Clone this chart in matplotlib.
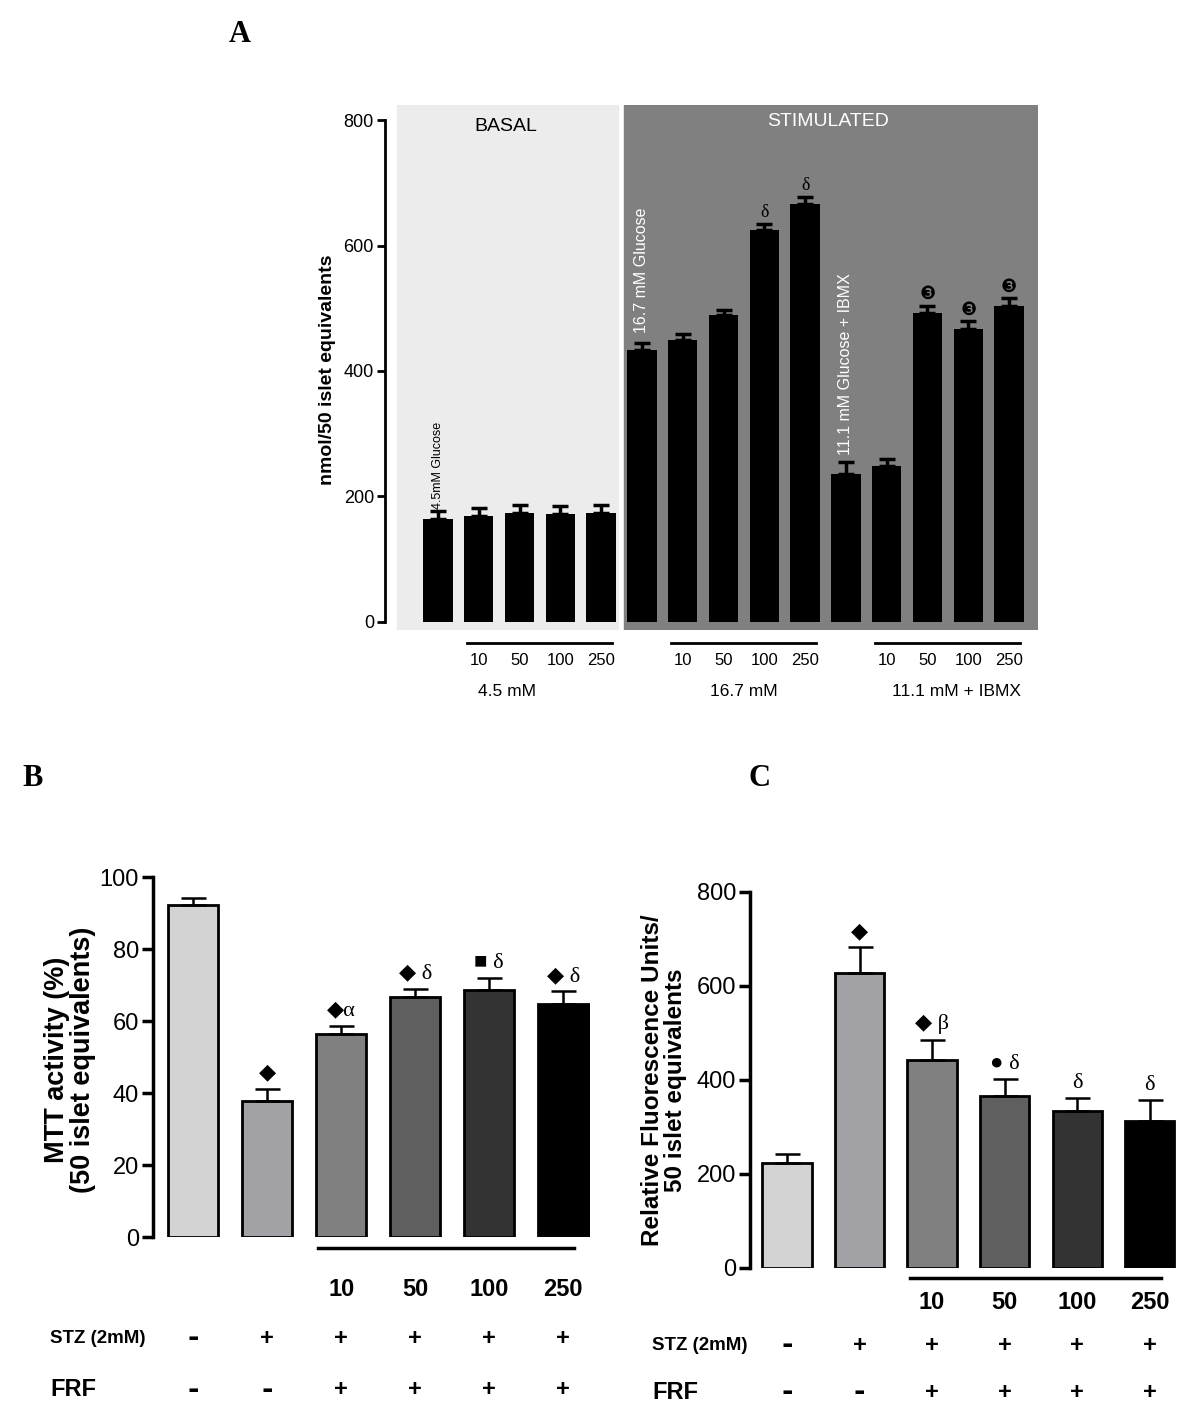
import numpy as np
import matplotlib
matplotlib.use("Agg")
import matplotlib.pyplot as plt
from matplotlib import font_manager

# ---- panel A : insulin secretion (nmol/50 islet equivalents)
a_basal = [164, 168, 174, 172, 174]
a_basal_sem = [12, 13, 13, 13, 13]
a_glu = [434, 449, 489, 624, 666]
a_glu_sem = [11, 10, 8, 11, 11]
a_ibmx = [235, 248, 492, 467, 504]
a_ibmx_sem = [20, 12, 12, 12, 12]
a_marks = ["", "", "", "", "", "", "", "", "δ", "δ", "", "", "❸", "❸", "❸"]
a_groups = ["4.5 mM", "16.7 mM", "11.1 mM + IBMX"]
a_group_x = [1.7, 7.5, 12.7]
doses = ["10", "50", "100", "250"]

# ---- panel B : MTT activity (%)
b_mtt = [92.3, 37.7, 56.4, 66.6, 68.6, 64.8]
b_mtt_sem = [1.9, 3.4, 2.3, 2.4, 3.3, 3.4]
b_marks = ["", "◆", "◆α", "◆ δ", "■ δ", "◆ δ"]

# ---- panel C : relative fluorescence units
c_ros = [224, 627, 443, 366, 334, 312]
c_ros_sem = [18, 55, 43, 36, 27, 45]
c_marks = ["", "◆", "◆ β", "● δ", "δ", "δ"]

stz = ["-", "+", "+", "+", "+", "+"]
frf = ["-", "-", "+", "+", "+", "+"]
bar_colors = ["#d3d3d3", "#a1a1a6", "#808080", "#5f5f5f", "#333333", "#000000"]


def has_font(name):
    try:
        font_manager.findfont(name, fallback_to_default=False)
        return True
    except ValueError:
        return False


narrow = "Liberation Sans Narrow" if has_font("Liberation Sans Narrow") else "Liberation Sans"
plt.rcParams["font.family"] = ["Liberation Sans", "DejaVu Sans"]
greek = ["Liberation Serif", "DejaVu Sans"]

W, H = 1200, 1427
fig = plt.figure(figsize=(W / 100, H / 100), dpi=100)


def px_axes(left, top, right, bottom):
    return fig.add_axes([left / W, 1 - bottom / H, (right - left) / W, (bottom - top) / H])


# ================= panel A =================
axA = px_axes(385, 105, 1038, 630)
a_vals = a_basal + a_glu + a_ibmx
a_sems = a_basal_sem + a_glu_sem + a_ibmx_sem
xa = np.arange(len(a_vals))
axA.set_xlim(-1.30, 14.71)
axA.set_ylim(-13, 824)
axA.axvspan(-1.0, 4.41, color="#ececec", zorder=0)
axA.axvspan(4.56, 14.71, color="#808080", zorder=0)
axA.bar(xa, a_vals, width=0.72, color="black", zorder=2)
axA.errorbar(xa, a_vals, yerr=[np.zeros(len(xa)), a_sems], fmt="none", ecolor="black",
             elinewidth=2.5, capsize=5.5, capthick=2.5, zorder=3)
for i, m in enumerate(a_marks):
    if m:
        axA.annotate(m, (xa[i], a_vals[i] + a_sems[i]), xytext=(0, 2), textcoords="offset points",
                     ha="center", va="bottom", fontsize=13, family=greek if m == "δ" else "DejaVu Sans")

axA.annotate("4.5mM Glucose", (xa[0], a_vals[0] + a_sems[0]), xytext=(0, 2), textcoords="offset points",
             rotation=90, ha="center", va="bottom", fontsize=9)
axA.annotate("16.7 mM Glucose", (xa[5], a_vals[5] + a_sems[5]), xytext=(0, 7), textcoords="offset points",
             rotation=90, ha="center", va="bottom", fontsize=11.5, color="white")
axA.annotate("11.1 mM Glucose + IBMX", (xa[10], a_vals[10] + a_sems[10]), xytext=(0, 5),
             textcoords="offset points", rotation=90, ha="center", va="bottom", fontsize=11.5, color="white")
axA.text(1.65, 790, "BASAL", ha="center", va="center", fontsize=14)
axA.text(9.56, 797, "STIMULATED", ha="center", va="center", fontsize=14, color="white")

for s in ["top", "right", "bottom"]:
    axA.spines[s].set_visible(False)
axA.spines["left"].set_bounds(0, 800)
axA.spines["left"].set_linewidth(2)
axA.set_yticks(range(0, 801, 200))
axA.set_xticks([])
axA.tick_params(axis="y", length=6, width=2, labelsize=13, pad=2)
fig.text(327 / W, 1 - 370 / H, "nmol/50 islet equivalents", rotation=90, ha="center", va="center",
         fontsize=14, fontweight="bold")

trA = axA.get_xaxis_transform()
for g, start in enumerate([1, 6, 11]):
    axA.plot([start - 0.29, start + 3.27], [-0.025, -0.025], color="black", lw=2,
             transform=trA, clip_on=False)
    for k, d in enumerate(doses):
        axA.text(start + k, -0.059, d, transform=trA, ha="center", va="center", fontsize=12)
    axA.text(a_group_x[g], -0.118, a_groups[g], transform=trA, ha="center", va="center", fontsize=12.5)


# ================= panels B and C =================
def treatment_panel(ax, vals, sems, marks, ylim, yticks, ylabel, label_xy, row_y, row_left, ysz):
    x = np.arange(len(vals))
    ax.bar(x, vals, width=0.68, color=bar_colors, edgecolor="black", linewidth=2, zorder=2)
    ax.errorbar(x, vals, yerr=[np.zeros(len(x)), sems], fmt="none", ecolor="black",
                elinewidth=1.8, capsize=9, capthick=1.8, zorder=3)
    for i, m in enumerate(marks):
        if m:
            ax.annotate(m, (x[i], vals[i] + sems[i]), xytext=(0, 4), textcoords="offset points",
                        ha="center", va="bottom", fontsize=16, family=greek)
    ax.set_ylim(*ylim)
    ax.set_yticks(yticks)
    ax.set_xticks([])
    for s in ["top", "right", "bottom"]:
        ax.spines[s].set_visible(False)
    ax.spines["left"].set_linewidth(2.5)
    ax.tick_params(axis="y", length=8, width=2.5, labelsize=17, pad=2)
    for t in ax.get_yticklabels():
        t.set_family(narrow)
    fig.text(label_xy[0] / W, 1 - label_xy[1] / H, ylabel, rotation=90, ha="center", va="center",
             fontsize=ysz, fontweight="bold", linespacing=1.05)

    tr = ax.get_xaxis_transform()
    line_y, num_y, stz_y, frf_y = row_y
    ax.plot([1.69, 5.15], [line_y, line_y], color="black", lw=2.5, transform=tr, clip_on=False)
    for k, d in enumerate(doses):
        ax.text(x[k + 2], num_y, d, transform=tr, ha="center", va="center", fontsize=17,
                fontweight="bold", family=narrow)
    for i in range(len(vals)):
        for row, signs in ((stz_y, stz), (frf_y, frf)):
            s = signs[i]
            ax.text(x[i], row, s, transform=tr, ha="center", va="center",
                    fontsize=20 if s == "-" else 17, fontweight="bold",
                    family="DejaVu Sans" if s == "-" else "Liberation Sans")
    ax.text(row_left, stz_y, "STZ (2mM)", transform=ax.transAxes, ha="left", va="center",
            fontsize=13.5, fontweight="bold", family=narrow)
    ax.text(row_left, frf_y, "FRF", transform=ax.transAxes, ha="left", va="center",
            fontsize=17, fontweight="bold", family=narrow)


axB = px_axes(153, 877, 590, 1237)
axB.set_xlim(-0.54, 5.36)
treatment_panel(axB, b_mtt, b_mtt_sem, b_marks, (0, 100), range(0, 101, 20),
                "MTT activity (%)\n(50 islet equivalents)", (70, 1060),
                (-0.031, -0.147, -0.281, -0.425), (50 - 153) / 437, 19.5)

axC = px_axes(750, 892, 1178, 1268)
axC.set_xlim(-0.51, 5.39)
treatment_panel(axC, c_ros, c_ros_sem, c_marks, (0, 800), range(0, 801, 200),
                "Relative Fluorescence Units/\n50 islet equivalents", (664, 1080),
                (-0.027, -0.093, -0.205, -0.33), (652 - 750) / 428, 17.5)

# panel letters
fig.text(240 / W, 1 - 35 / H, "A", fontsize=22, fontweight="bold", family="Liberation Serif",
         ha="center", va="center")
fig.text(33 / W, 1 - 778 / H, "B", fontsize=22, fontweight="bold", family="Liberation Serif",
         ha="center", va="center")
fig.text(760 / W, 1 - 778 / H, "C", fontsize=22, fontweight="bold", family="Liberation Serif",
         ha="center", va="center")

fig.savefig("out.png", dpi=100)
